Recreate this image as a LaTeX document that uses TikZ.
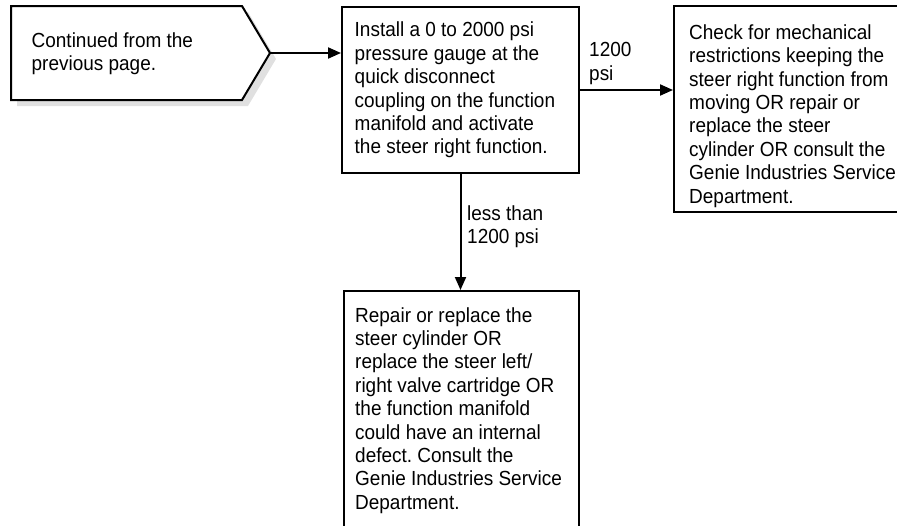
\documentclass[tikz,border=0pt]{standalone}
\usepackage{fontspec}
\setmainfont{Liberation Sans}[FakeStretch=0.93]
\usetikzlibrary{arrows.meta}
\frenchspacing
\tikzset{
  boxshape/.style={draw, line width=2pt, rectangle, inner sep=0pt, anchor=north west},
  txt/.style={inner sep=0pt, align=left, anchor=north west, font=\fontsize{20.4}{23.4}\selectfont\frenchspacing},
  conn/.style={line width=2pt, -{Triangle[length=13pt,width=11pt]}},
}
\begin{document}
\begin{tikzpicture}[x=1pt,y=-1pt]
\useasboundingbox (0,0) rectangle (897,525);
\clip (0,0) rectangle (897,525);
% pentagon with shadow
\fill[black!12] (17,12) -- (248,12) -- (276,59) -- (248,106) -- (17,106) -- cycle;
\draw[line width=2pt, fill=white, line join=miter] (11,6) -- (242,6) -- (270,53) -- (242,100) -- (11,100) -- cycle;
\coordinate (tip) at (270,53);
\node[txt] (t1) at (31.5,32.2) {Continued from the\\previous page.};
% boxes
\node[boxshape, minimum width=237pt, minimum height=166pt] (b2) at (341,6) {};
\node[txt] (t2) at (354.5,22) {Install a 0 to 2000 psi\\pressure gauge at the\\quick disconnect\\coupling on the function\\manifold and activate\\the steer right function.};
\node[boxshape, minimum width=240pt, minimum height=206pt] (b3) at (673,5) {};
\node[txt] (t3) at (689,24.3) {Check for mechanical\\restrictions keeping the\\steer right function from\\moving OR repair or\\replace the steer\\cylinder OR consult the\\Genie Industries Service\\Department.};
\node[boxshape, minimum width=235pt, minimum height=260pt] (b4) at (343,290) {};
\node[txt] (t4) at (355,307.2) {Repair or replace the\\steer cylinder OR\\replace the steer left/\\right valve cartridge OR\\the function manifold\\could have an internal\\defect. Consult the\\Genie Industries Service\\Department.};
% connectors
\draw[conn] (tip) -- (tip -| b2.west);
\draw[conn] (b2.east) -- (b2.east -| b3.west);
\draw[conn] (b2.south) -- (b2.south |- b4.north);
% labels
\node[txt] (l1) at (589,42.2) {1200\\psi};
\node[txt] (l2) at (467,205.5) {less than\\1200 psi};
\end{tikzpicture}
\end{document}
